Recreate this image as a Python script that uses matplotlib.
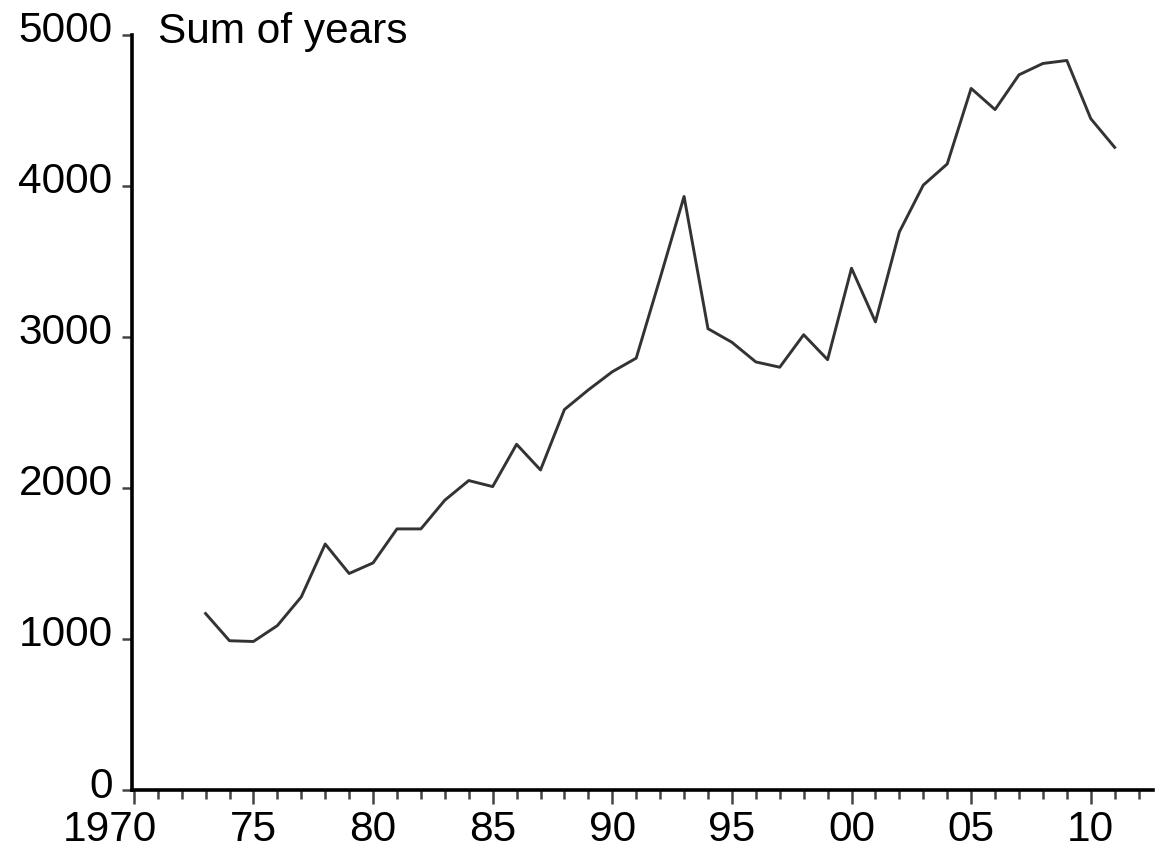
import matplotlib.pyplot as plt
import matplotlib.transforms as mtransforms
from matplotlib.ticker import FixedLocator, MultipleLocator

plt.rcParams['font.family'] = ['Liberation Sans', 'DejaVu Sans']

years = list(range(1973, 2012))
values = [1170, 990, 985, 1090, 1280, 1630, 1435, 1505, 1730, 1730,
          1920, 2050, 2010, 2290, 2120, 2520, 2650, 2770, 2860, 3390,
          3930, 3055, 2965, 2835, 2800, 3015, 2850, 3455, 3100, 3695,
          4005, 4145, 4645, 4505, 4735, 4810, 4830, 4445, 4255]

x_ticks = [1970, 1975, 1980, 1985, 1990, 1995, 2000, 2005, 2010]
x_labels = ['1970', '75', '80', '85', '90', '95', '00', '05', '10']
y_ticks = [0, 1000, 2000, 3000, 4000, 5000]

fig = plt.figure(figsize=(11.57, 8.48), dpi=100)
ax = fig.add_axes([0.114, 0.068, 0.8825, 0.891])

ax.plot(years, values, color='#333333', linewidth=2.1)

ax.set_xlim(1969.92, 2012.6)
ax.set_ylim(0, 5000)

ax.spines['top'].set_visible(False)
ax.spines['right'].set_visible(False)
ax.spines['left'].set_linewidth(2.6)
ax.spines['bottom'].set_linewidth(2.6)

ax.xaxis.set_major_locator(FixedLocator(x_ticks))
ax.set_xticklabels(x_labels)
ax.xaxis.set_minor_locator(MultipleLocator(1))
ax.set_yticks(y_ticks)

ax.tick_params(axis='both', which='major', direction='out', labelsize=30.5,
               color='#444444', width=1.8)
ax.tick_params(axis='x', which='major', length=10, pad=4)
ax.tick_params(axis='x', which='minor', direction='out', length=6.5,
               color='#444444', width=1.8)
ax.tick_params(axis='y', which='major', length=7, pad=7)

# y labels sit a little above their ticks in the original
shift = mtransforms.ScaledTranslation(0, 6 / 72, fig.dpi_scale_trans)
for lab in ax.get_yticklabels():
    lab.set_transform(lab.get_transform() + shift)

# "1970": the "70" part is centred on the tick
first = ax.get_xticklabels()[0]
first.set_transform(first.get_transform() +
                    mtransforms.ScaledTranslation(-17 / 72, 0, fig.dpi_scale_trans))

ax.text(0.0255, 0.989, 'Sum of years', transform=ax.transAxes,
        fontsize=30.5, va='baseline', ha='left')

fig.savefig('out.png', dpi=100)
